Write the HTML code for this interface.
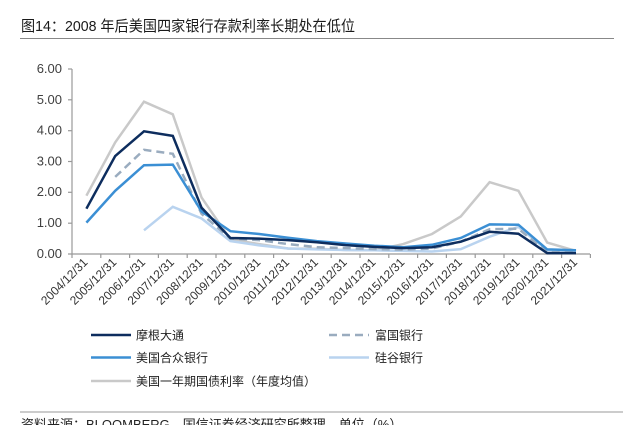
<!DOCTYPE html>
<html><head><meta charset="utf-8"><style>
html,body{margin:0;padding:0;background:#fff;}
svg{display:block;}
</style></head><body>
<svg width="641" height="425" viewBox="0 0 641 425" xmlns="http://www.w3.org/2000/svg">
<rect width="641" height="425" fill="#fff"/>
<text x="21" y="31" font-family="'Liberation Sans','Noto Sans CJK SC',sans-serif" font-size="15" fill="#1a1a1a" textLength="334" lengthAdjust="spacingAndGlyphs">图14：2008 年后美国四家银行存款利率长期处在低位</text>
<line x1="20" y1="38.5" x2="614" y2="38.5" stroke="#888" stroke-width="1"/>

<g font-family="'Liberation Sans',sans-serif" font-size="13" fill="#404040" text-anchor="end">
<text x="62" y="73">6.00</text>
<text x="62" y="104">5.00</text>
<text x="62" y="134.5">4.00</text>
<text x="62" y="165.5">3.00</text>
<text x="62" y="196">2.00</text>
<text x="62" y="227">1.00</text>
<text x="62" y="258">0.00</text>
</g>
<g stroke="#999" stroke-width="1.2">
<line x1="72" y1="69" x2="72" y2="254"/>
<line x1="68" y1="69" x2="72" y2="69"/>
<line x1="68" y1="99.8" x2="72" y2="99.8"/>
<line x1="68" y1="130.7" x2="72" y2="130.7"/>
<line x1="68" y1="161.5" x2="72" y2="161.5"/>
<line x1="68" y1="192.3" x2="72" y2="192.3"/>
<line x1="68" y1="223.2" x2="72" y2="223.2"/>
<line x1="68" y1="254" x2="590" y2="254"/>
<line x1="72" y1="254" x2="72" y2="258"/>
<line x1="100.8" y1="254" x2="100.8" y2="258"/>
<line x1="129.6" y1="254" x2="129.6" y2="258"/>
<line x1="158.4" y1="254" x2="158.4" y2="258"/>
<line x1="187.2" y1="254" x2="187.2" y2="258"/>
<line x1="216" y1="254" x2="216" y2="258"/>
<line x1="244.8" y1="254" x2="244.8" y2="258"/>
<line x1="273.6" y1="254" x2="273.6" y2="258"/>
<line x1="302.4" y1="254" x2="302.4" y2="258"/>
<line x1="331.2" y1="254" x2="331.2" y2="258"/>
<line x1="360" y1="254" x2="360" y2="258"/>
<line x1="388.8" y1="254" x2="388.8" y2="258"/>
<line x1="417.6" y1="254" x2="417.6" y2="258"/>
<line x1="446.4" y1="254" x2="446.4" y2="258"/>
<line x1="475.2" y1="254" x2="475.2" y2="258"/>
<line x1="504" y1="254" x2="504" y2="258"/>
<line x1="532.8" y1="254" x2="532.8" y2="258"/>
<line x1="561.6" y1="254" x2="561.6" y2="258"/>
<line x1="590.4" y1="254" x2="590.4" y2="258"/>
</g>

<g font-family="'Liberation Sans',sans-serif" font-size="12" fill="#333" text-anchor="end">
<text transform="translate(88.4,263) rotate(-45)">2004/12/31</text>
<text transform="translate(117.2,263) rotate(-45)">2005/12/31</text>
<text transform="translate(146,263) rotate(-45)">2006/12/31</text>
<text transform="translate(174.8,263) rotate(-45)">2007/12/31</text>
<text transform="translate(203.6,263) rotate(-45)">2008/12/31</text>
<text transform="translate(232.4,263) rotate(-45)">2009/12/31</text>
<text transform="translate(261.2,263) rotate(-45)">2010/12/31</text>
<text transform="translate(290,263) rotate(-45)">2011/12/31</text>
<text transform="translate(318.8,263) rotate(-45)">2012/12/31</text>
<text transform="translate(347.6,263) rotate(-45)">2013/12/31</text>
<text transform="translate(376.4,263) rotate(-45)">2014/12/31</text>
<text transform="translate(405.2,263) rotate(-45)">2015/12/31</text>
<text transform="translate(434,263) rotate(-45)">2016/12/31</text>
<text transform="translate(462.8,263) rotate(-45)">2017/12/31</text>
<text transform="translate(491.6,263) rotate(-45)">2018/12/31</text>
<text transform="translate(520.4,263) rotate(-45)">2019/12/31</text>
<text transform="translate(549.2,263) rotate(-45)">2020/12/31</text>
<text transform="translate(578,263) rotate(-45)">2021/12/31</text>
</g>

<g fill="none" stroke-width="2.5" stroke-linejoin="miter">
<polyline stroke="#c9c9c9" points="86.4,195.7 115.2,142.4 144,101.7 172.8,114.3 201.6,197.6 230.4,239.5 259.2,244.1 288,248.5 316.8,248.8 345.6,250 374.4,250.3 403.2,244.1 432,234 460.8,216.4 489.6,182.2 518.4,190.8 547.2,242.6 576,250.9"/>
<polyline stroke="#b9d3ef" points="144,230.3 172.8,206.8 201.6,218.5 230.4,241.1 259.2,245.4 288,248.5 316.8,249.4 345.6,250 374.4,250.3 403.2,250.9 432,251.5 460.8,249.1 489.6,236.7 518.4,226.9 547.2,250.3 576,250.9"/>
<polyline stroke="#9aacbf" stroke-dasharray="8,5" points="115.2,176.9 144,149.8 172.8,153.8 201.6,213.9 230.4,238.6 259.2,240.1 288,244.1 316.8,247.2 345.6,248.1 374.4,249.1 403.2,249.7 432,248.5 460.8,241.7 489.6,229.3 518.4,228.7 547.2,252.5 576,252.5"/>
<polyline stroke="#3b8fd4" points="86.4,222.6 115.2,190.8 144,165.2 172.8,164.6 201.6,211.5 230.4,231.2 259.2,234 288,237.7 316.8,241.1 345.6,243.5 374.4,245.7 403.2,247.2 432,244.8 460.8,238 489.6,224.4 518.4,224.7 547.2,249.4 576,250.3"/>
<polyline stroke="#0d2d5e" points="86.4,208.7 115.2,156 144,131.3 172.8,135.9 201.6,207.8 230.4,238 259.2,238.6 288,240.1 316.8,242.3 345.6,245.1 374.4,246.9 403.2,248.1 432,247.2 460.8,241.7 489.6,231.8 518.4,233.7 547.2,253.1 576,253.1"/>
</g>

<g stroke-width="2.5">
<line x1="91" y1="335" x2="131" y2="335" stroke="#0d2d5e"/>
<line x1="329" y1="335" x2="369" y2="335" stroke="#9aacbf" stroke-dasharray="8,5"/>
<line x1="91" y1="357.5" x2="131" y2="357.5" stroke="#3b8fd4"/>
<line x1="329" y1="357.5" x2="369" y2="357.5" stroke="#b9d3ef"/>
<line x1="91" y1="381" x2="131" y2="381" stroke="#c9c9c9"/>
</g>
<g font-family="'Liberation Sans','Noto Sans CJK SC',sans-serif" font-size="12" fill="#222">
<text x="136" y="339.5">摩根大通</text>
<text x="375" y="339.5">富国银行</text>
<text x="136" y="362">美国合众银行</text>
<text x="375" y="362">硅谷银行</text>
<text x="136" y="385.5">美国一年期国债利率（年度均值）</text>
</g>

<line x1="20" y1="412" x2="623" y2="412" stroke="#999" stroke-width="1"/>
<text x="21" y="429" font-family="'Liberation Sans','Noto Sans CJK SC',sans-serif" font-size="13" fill="#222">资料来源：BLOOMBERG，国信证券经济研究所整理，单位（%）</text>
</svg>
</body></html>
